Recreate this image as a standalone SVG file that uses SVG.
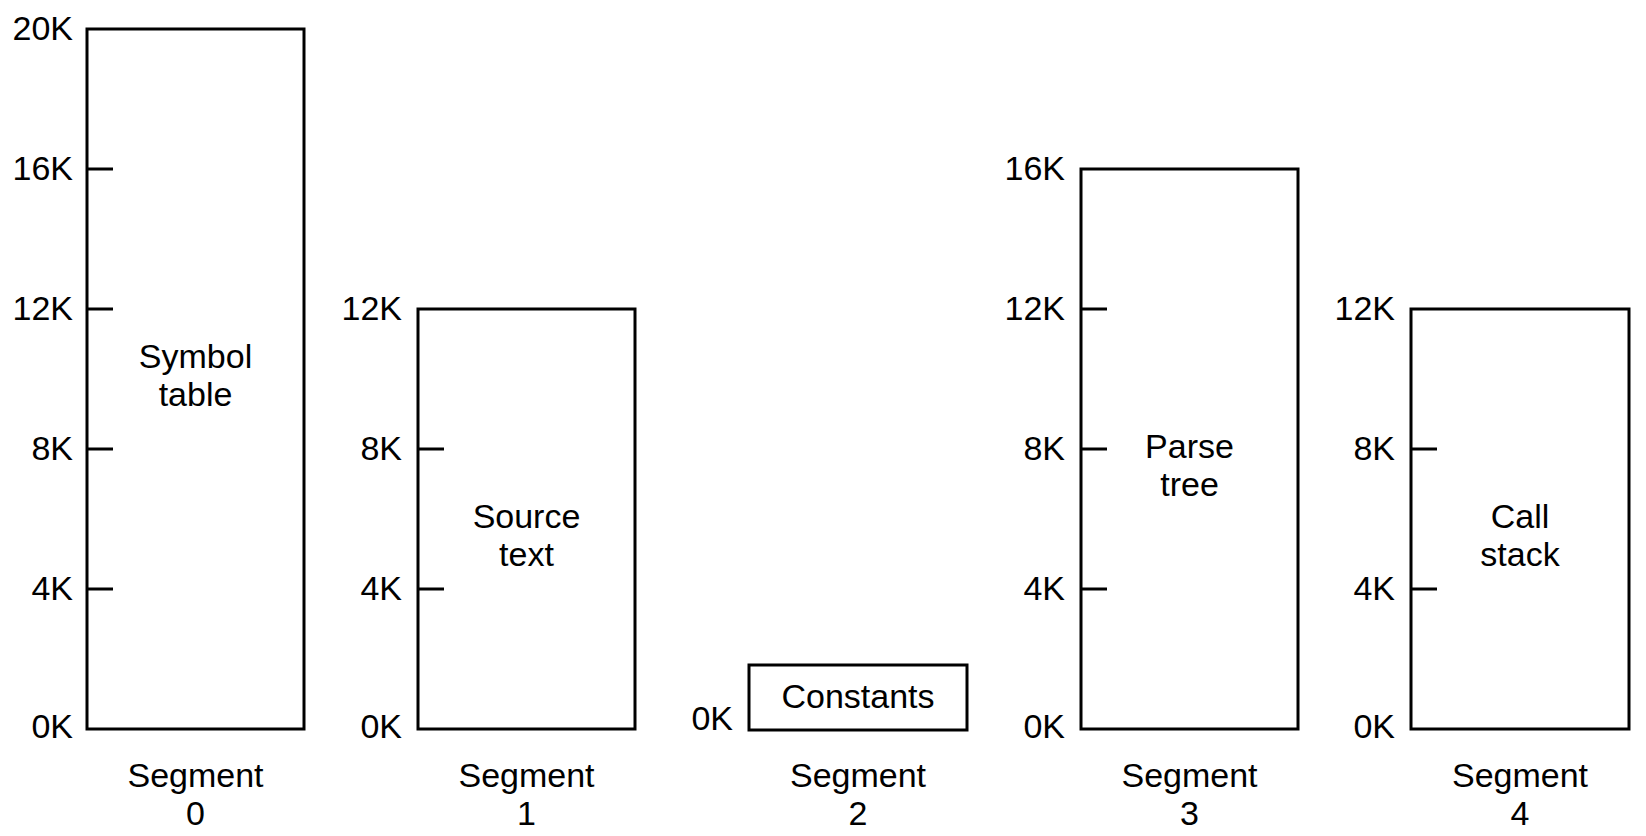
<svg xmlns="http://www.w3.org/2000/svg" width="1646" height="836" viewBox="0 0 1646 836">
<style>
.box{fill:none;stroke:#000;stroke-width:3}
.tick{stroke:#000;stroke-width:3}
text{font-family:"Liberation Sans",Arial,sans-serif;font-size:34px;fill:#000}
.ax{text-anchor:end}
.c{text-anchor:middle}
</style>
<rect width="1646" height="836" fill="#fff"/>
<g id="seg0">
<rect class="box" x="87" y="29" width="217" height="700"/>
<line class="tick" x1="87" y1="169" x2="113" y2="169"/>
<line class="tick" x1="87" y1="309" x2="113" y2="309"/>
<line class="tick" x1="87" y1="449" x2="113" y2="449"/>
<line class="tick" x1="87" y1="589" x2="113" y2="589"/>
<text class="ax" x="73" y="40">20K</text>
<text class="ax" x="73" y="180">16K</text>
<text class="ax" x="73" y="320">12K</text>
<text class="ax" x="73" y="460">8K</text>
<text class="ax" x="73" y="600">4K</text>
<text class="ax" x="73" y="738">0K</text>
<text class="c" x="195.5" y="368">Symbol</text>
<text class="c" x="195.5" y="406">table</text>
<text class="c" x="195.5" y="787">Segment</text>
<text class="c" x="195.5" y="825">0</text>
</g>
<g id="seg1">
<rect class="box" x="418" y="309" width="217" height="420"/>
<line class="tick" x1="418" y1="449" x2="444" y2="449"/>
<line class="tick" x1="418" y1="589" x2="444" y2="589"/>
<text class="ax" x="402" y="320">12K</text>
<text class="ax" x="402" y="460">8K</text>
<text class="ax" x="402" y="600">4K</text>
<text class="ax" x="402" y="738">0K</text>
<text class="c" x="526.5" y="528">Source</text>
<text class="c" x="526.5" y="566">text</text>
<text class="c" x="526.5" y="787">Segment</text>
<text class="c" x="526.5" y="825">1</text>
</g>
<g id="seg2">
<rect class="box" x="749" y="665" width="218" height="65"/>
<text class="ax" x="733" y="730">0K</text>
<text class="c" x="858" y="708">Constants</text>
<text class="c" x="858" y="787">Segment</text>
<text class="c" x="858" y="825">2</text>
</g>
<g id="seg3">
<rect class="box" x="1081" y="169" width="217" height="560"/>
<line class="tick" x1="1081" y1="309" x2="1107" y2="309"/>
<line class="tick" x1="1081" y1="449" x2="1107" y2="449"/>
<line class="tick" x1="1081" y1="589" x2="1107" y2="589"/>
<text class="ax" x="1065" y="180">16K</text>
<text class="ax" x="1065" y="320">12K</text>
<text class="ax" x="1065" y="460">8K</text>
<text class="ax" x="1065" y="600">4K</text>
<text class="ax" x="1065" y="738">0K</text>
<text class="c" x="1189.5" y="458">Parse</text>
<text class="c" x="1189.5" y="496">tree</text>
<text class="c" x="1189.5" y="787">Segment</text>
<text class="c" x="1189.5" y="825">3</text>
</g>
<g id="seg4">
<rect class="box" x="1411" y="309" width="218" height="420"/>
<line class="tick" x1="1411" y1="449" x2="1437" y2="449"/>
<line class="tick" x1="1411" y1="589" x2="1437" y2="589"/>
<text class="ax" x="1395" y="320">12K</text>
<text class="ax" x="1395" y="460">8K</text>
<text class="ax" x="1395" y="600">4K</text>
<text class="ax" x="1395" y="738">0K</text>
<text class="c" x="1520" y="528">Call</text>
<text class="c" x="1520" y="566">stack</text>
<text class="c" x="1520" y="787">Segment</text>
<text class="c" x="1520" y="825">4</text>
</g>
<g id="connectors"/>
</svg>
